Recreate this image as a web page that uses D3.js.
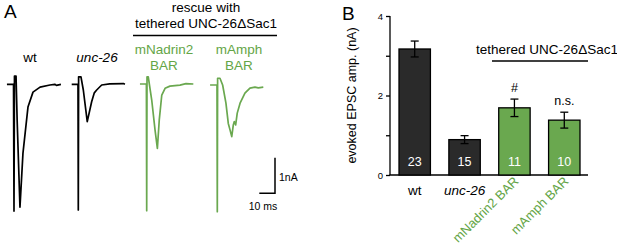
<!DOCTYPE html>
<html>
<head>
<meta charset="utf-8">
<script src="https://cdn.jsdelivr.net/npm/d3@7"></script>
<style>
  body { margin: 0; background: #fff; }
  svg { font-family: "Liberation Sans", Arial, sans-serif; }
</style>
</head>
<body>
<div id="chart-area"></div>
<script>
// ---- data ----
// Panel A traces: [time (ms) after stimulus, current (nA)]
var traceWt = [[-4.5, 0], [-0.3, 0], [0, -3.56], [0.3, 0.23], [1.3, 0.23], [2, -1.0], [3.8, -3.45],
  [5.7, -1.94], [8.9, -0.64], [12.1, -0.22], [16.6, -0.08], [22.9, -0.02], [26, 0], [27, -0.03], [29.9, 0]];
var traceUnc = [[-4.2, 0], [-0.2, 0], [0, -3.53], [0.2, 0.21], [1.7, 0.21], [3.2, -0.16], [5.7, -1.05],
  [8.5, -0.49], [10.2, -0.24], [11.7, -0.16], [14.9, -0.02], [20, 0.01], [28.7, 0.02], [29.7, 0]];
var traceNadrin = [[-4.3, 0], [-0.2, 0], [0, -3.56], [0.2, 0.2], [1.0, 0.2], [3.2, -0.45], [5.3, -1.29],
  [6.8, -1.81], [8.0, -1.01], [9.6, -0.31], [11.7, -0.12], [14.8, -0.06], [21.2, -0.03], [25, 0.01], [29.7, 0]];
var traceAmph = [[-4.6, 0], [-0.2, 0], [0, -3.56], [0.2, 0.19], [1.7, 0.19], [3.4, 0], [5.5, -0.51],
  [7.0, -1.08], [8.1, -1.26], [9.2, -1.45], [10.2, -1.12], [10.8, -1.03], [11.7, -1.12], [12.7, -0.79],
  [14.5, -0.51], [17.6, -0.23], [20.8, -0.09], [24, -0.06], [26.1, -0.08], [29.3, -0.06]];

// Panel B bars
var categories = ["wt", "unc-26", "mNadrin2 BAR", "mAmph BAR"];
var amplitudes = [3.17, 0.89, 1.69, 1.38];
var errors = [0.2, 0.1, 0.22, 0.2];
var counts = [23, 15, 11, 10];
var marks = ["", "", "#", "n.s."];
var yTicks = [0, 1, 2, 3, 4];

var dark = "#2a2a2a", green = "#6aa84f", greenText = "#64a546";

var svg = d3.select("#chart-area")
  .append("svg")
    .attr("width", 617)
    .attr("height", 250);

// ================= Panel A =================
svg.append("text").attr("x", 4).attr("y", 18).attr("font-size", "19px").text("A");

var xA = d3.scaleLinear().domain([0, 10]).range([0, 15.7]);
var yA = d3.scaleLinear().domain([0, 1]).range([0, -35.6]);
var line = d3.line().x(d => xA(d[0])).y(d => yA(d[1]));

var traces = [
  { data: traceWt, x: 14, y: 84.3, color: "#000" },
  { data: traceUnc, x: 78.3, y: 84.3, color: "#000" },
  { data: traceNadrin, x: 146.7, y: 84, color: green },
  { data: traceAmph, x: 217.3, y: 85, color: green }
];
traces.forEach(function(t) {
  svg.append("g")
      .attr("transform", "translate(" + t.x + "," + t.y + ")")
    .append("path")
      .attr("d", line(t.data))
      .attr("fill", "none")
      .attr("stroke", t.color)
      .attr("stroke-width", 1.7)
      .attr("stroke-linejoin", "round");
});

// trace labels
svg.append("text").attr("x", 30).attr("y", 62).attr("text-anchor", "middle")
  .attr("font-size", "13.5px").text("wt");
svg.append("text").attr("x", 97).attr("y", 62).attr("text-anchor", "middle")
  .attr("font-size", "13.5px").attr("font-style", "italic").text("unc-26");
[["mNadrin2", 164], ["mAmph", 239]].forEach(function(d) {
  svg.append("text").attr("x", d[1]).attr("y", 54).attr("text-anchor", "middle")
    .attr("font-size", "13.5px").attr("fill", greenText).text(d[0]);
  svg.append("text").attr("x", d[1]).attr("y", 70).attr("text-anchor", "middle")
    .attr("font-size", "13.5px").attr("fill", greenText).text("BAR");
});
svg.append("text").attr("x", 206).attr("y", 12).attr("text-anchor", "middle")
  .attr("font-size", "13.5px").text("rescue with");
svg.append("text").attr("x", 206).attr("y", 28).attr("text-anchor", "middle")
  .attr("font-size", "13.5px").text("tethered UNC-26\u0394Sac1");
svg.append("line").attr("x1", 133).attr("x2", 277).attr("y1", 35.5).attr("y2", 35.5)
  .attr("stroke", "#000").attr("stroke-width", 1.5);

// scale bar
var sb = svg.append("g").attr("transform", "translate(275,193.3)");
sb.append("path")
  .attr("d", line([[0, 1], [0, 0], [-10, 0]]))
  .attr("fill", "none").attr("stroke", "#000").attr("stroke-width", 1.5);
svg.append("text").attr("x", 279).attr("y", 181).attr("font-size", "10.5px").text("1nA");
svg.append("text").attr("x", 263).attr("y", 210).attr("text-anchor", "middle")
  .attr("font-size", "10.5px").text("10 ms");

// ================= Panel B =================
svg.append("text").attr("x", 342).attr("y", 20).attr("font-size", "19px").text("B");

var x = d3.scaleBand().domain(categories).range([399, 580]).paddingInner(0.37).paddingOuter(0);
var y = d3.scaleLinear().domain([0, 4]).range([175, 16]);

var yAxis = d3.axisLeft(y).tickValues(yTicks).tickSize(4).tickPadding(3)
  .tickFormat(d => (d % 2 === 0 ? d : ""));
var yAxisGroup = svg.append("g").attr("transform", "translate(390,0)").call(yAxis);
yAxisGroup.select(".domain").remove();
yAxisGroup.append("line").attr("x1", 0).attr("x2", 0).attr("y1", y(4)).attr("y2", y(0))
  .attr("stroke", "#000").attr("stroke-width", 1.3);
yAxisGroup.selectAll(".tick line").attr("stroke-width", 1.3);
yAxisGroup.selectAll(".tick text").attr("font-size", "9.5px").attr("font-family", "Liberation Sans, Arial");

// x axis baseline
svg.append("line").attr("x1", 389.5).attr("x2", 588).attr("y1", y(0)).attr("y2", y(0))
  .attr("stroke", "#000").attr("stroke-width", 1.5);

svg.append("text")
  .attr("transform", "translate(356," + y(2) + ") rotate(-90)")
  .attr("text-anchor", "middle").attr("font-size", "12.5px")
  .text("evoked EPSC amp. (nA)");

var rows = categories.map((c, i) => ({ cat: c, v: amplitudes[i], e: errors[i], n: counts[i], m: marks[i], i: i }));

rows.forEach(function(d) {
  var cx = x(d.cat) + x.bandwidth() / 2;
  svg.append("rect")
    .attr("x", x(d.cat)).attr("y", y(d.v))
    .attr("width", x.bandwidth()).attr("height", y(0) - y(d.v))
    .attr("fill", d.i < 2 ? dark : green)
    .attr("stroke", "#000").attr("stroke-width", 1.3);
  var eb = svg.append("g").attr("stroke", "#000").attr("stroke-width", 1.3);
  eb.append("line").attr("x1", cx).attr("x2", cx).attr("y1", y(d.v + d.e)).attr("y2", y(d.v - d.e));
  eb.append("line").attr("x1", cx - 4).attr("x2", cx + 4).attr("y1", y(d.v + d.e)).attr("y2", y(d.v + d.e));
  eb.append("line").attr("x1", cx - 4).attr("x2", cx + 4).attr("y1", y(d.v - d.e)).attr("y2", y(d.v - d.e));
  svg.append("text").attr("x", cx).attr("y", 166).attr("text-anchor", "middle")
    .attr("font-size", "12.5px").attr("fill", "#fff").text(d.n);
  if (d.m) {
    svg.append("text").attr("x", cx).attr("y", y(d.v + d.e) - 7).attr("text-anchor", "middle")
      .attr("font-size", "12.5px").text(d.m);
  }
});

// category labels
svg.append("text").attr("x", x("wt") + x.bandwidth() / 2).attr("y", 195).attr("text-anchor", "middle")
  .attr("font-size", "13.5px").text("wt");
svg.append("text").attr("x", x("unc-26") + x.bandwidth() / 2).attr("y", 195).attr("text-anchor", "middle")
  .attr("font-size", "13.5px").attr("font-style", "italic").text("unc-26");
["mNadrin2 BAR", "mAmph BAR"].forEach(function(c) {
  var cx = x(c) + x.bandwidth() / 2 + 5;
  svg.append("text")
    .attr("transform", "translate(" + cx + ",182) rotate(-45)")
    .attr("text-anchor", "end").attr("font-size", "13px").attr("fill", greenText)
    .text(c);
});

svg.append("text").attr("x", 547).attr("y", 54).attr("text-anchor", "middle")
  .attr("font-size", "13.5px").text("tethered UNC-26\u0394Sac1");
svg.append("line").attr("x1", 492).attr("x2", 588).attr("y1", 61).attr("y2", 61)
  .attr("stroke", "#000").attr("stroke-width", 1.5);
</script>
</body>
</html>
